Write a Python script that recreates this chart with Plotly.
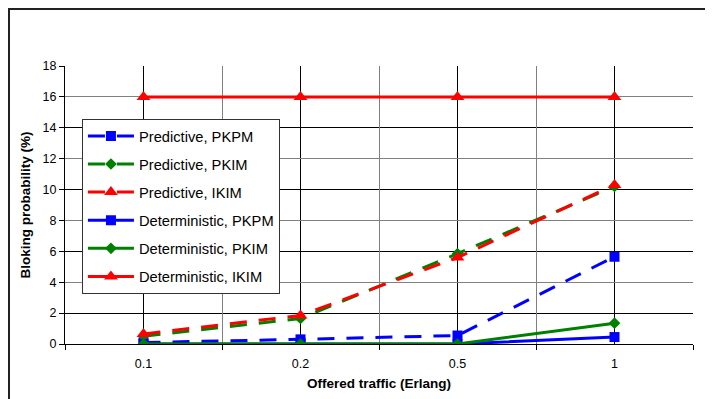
import plotly.graph_objects as go

# ---- data ----
categories = ["0.1", "0.2", "0.5", "1"]
pred_pkpm = [0.1, 0.3, 0.55, 5.65]
pred_pkim = [0.5, 1.65, 5.85, 10.2]
pred_ikim = [0.65, 1.85, 5.6, 10.3]
det_pkpm = [0.0, 0.0, 0.0, 0.45]
det_pkim = [0.0, 0.0, 0.0, 1.35]
det_ikim = [16, 16, 16, 16]

series_names = [
    "Predictive, PKPM", "Predictive, PKIM", "Predictive, IKIM",
    "Deterministic, PKPM", "Deterministic, PKIM", "Deterministic, IKIM",
]
y_ticks = [0, 2, 4, 6, 8, 10, 12, 14, 16, 18]
y_grey_grid = [4, 8, 12, 16, 18]
x_title = "Offered traffic (Erlang)"
y_title = "Bloking probability (%)"

BLUE, GREEN, RED = "#0000FF", "#008000", "#FF0000"
FONT = "Liberation Sans, Arial, sans-serif"
DASH = "17px,12px"

styles = [
    (pred_pkpm, BLUE, "square", 10, DASH),
    (pred_pkim, GREEN, "diamond", 9, DASH),
    (pred_ikim, RED, "triangle-up", 12, DASH),
    (det_pkpm, BLUE, "square", 10, "solid"),
    (det_pkim, GREEN, "diamond", 9, "solid"),
    (det_ikim, RED, "triangle-up", 12, "solid"),
]

fig = go.Figure()
for i, (name, (vals, col, sym, msize, dash)) in enumerate(zip(series_names, styles)):
    fig.add_trace(go.Scatter(
        x=categories, y=vals, name=name, mode="lines+markers",
        line=dict(color=col, width=3, dash=dash),
        marker=dict(symbol=sym, size=msize, color=col),
        legendgroup=f"g{i}",
    ))

# empty helper trace for the overlay axes that carry the grey grid
fig.add_trace(go.Scatter(x=[], y=[], xaxis="x2", yaxis="y2",
                         showlegend=False, hoverinfo="skip"))

n = len(categories)
boundaries = [i - 0.5 for i in range(n + 1)]

fig.update_layout(
    width=713, height=399,
    margin=dict(l=57, r=28, t=58, b=63, autoexpand=False),
    paper_bgcolor="white", plot_bgcolor="white",
    font=dict(family=FONT, color="black", size=12.5),
    showlegend=True,
    legend=dict(
        x=0.027, y=0.81, xanchor="left", yanchor="top",
        bgcolor="white", bordercolor="#333333", borderwidth=1,
        font=dict(family=FONT, size=14.7, color="black"),
        itemwidth=46, tracegroupgap=6, traceorder="grouped",
        entrywidth=162,
    ),
    xaxis=dict(
        type="category", categoryorder="array", categoryarray=categories,
        range=[-0.5, n - 0.5], showgrid=True, gridcolor="black", gridwidth=1,
        showline=True, linecolor="black", linewidth=1, ticks="",
        ticklabelstandoff=8, automargin=False,
        tickfont=dict(family=FONT, size=12.5, color="black"),
        title=dict(text=f"<b>{x_title}</b>", font=dict(family=FONT, size=13.5, color="black"), standoff=8),
        zeroline=False,
    ),
    xaxis2=dict(
        type="linear", overlaying="x", anchor="y", side="bottom",
        range=[-0.5, n - 0.5], tickvals=boundaries, showticklabels=False,
        showgrid=True, gridcolor="#808080", gridwidth=1, automargin=False,
        ticks="outside", ticklen=5, tickcolor="black", showline=False, zeroline=False,
    ),
    yaxis=dict(
        range=[0, 18], tickvals=y_ticks, showgrid=True, gridcolor="black", gridwidth=1,
        showline=True, linecolor="black", linewidth=1, automargin=False,
        ticks="outside", ticklen=5, tickcolor="black",
        tickfont=dict(family=FONT, size=12.5, color="black"),
        title=dict(text=f"<b>{y_title}</b>", font=dict(family=FONT, size=13.5, color="black"), standoff=8),
        zeroline=False,
    ),
    yaxis2=dict(
        overlaying="y", anchor="x", side="left", range=[0, 18],
        tickvals=y_grey_grid, showticklabels=False, ticks="", automargin=False,
        showgrid=True, gridcolor="#808080", gridwidth=1,
        showline=False, zeroline=False,
    ),
    shapes=[dict(
        type="rect", xref="paper", yref="paper",
        x0=-56 / 628, x1=1.06, y0=-0.3, y1=1 + 57 / 278,
        line=dict(color="#222222", width=2), fillcolor="rgba(0,0,0,0)", layer="above",
    )],
)

fig.write_html("out.html")
